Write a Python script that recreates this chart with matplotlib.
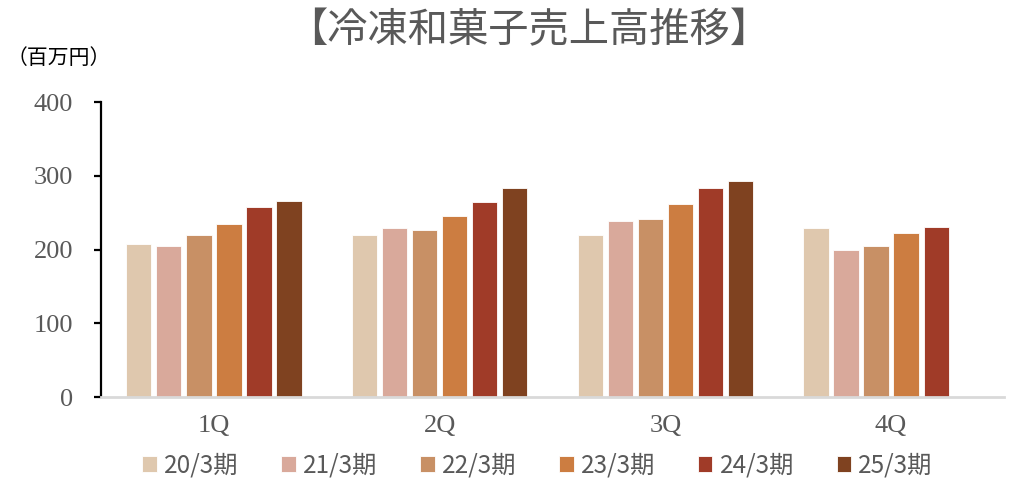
import matplotlib.pyplot as plt
import numpy as np

plt.rcParams['font.family'] = ['Noto Sans CJK JP', 'DejaVu Sans']

quarters = ['1Q', '2Q', '3Q', '4Q']
periods = ['20/3期', '21/3期', '22/3期', '23/3期', '24/3期', '25/3期']
sales = [
    [208, 219, 219, 229],
    [205, 229, 238, 199],
    [220, 227, 241, 205],
    [235, 246, 262, 222],
    [257, 265, 283, 231],
    [266, 283, 293, np.nan],
]
colors = ['#DFC8AE', '#D9A99B', '#C89065', '#CC7D41', '#A03B28', '#7F4220']

fig = plt.figure(figsize=(10.2, 4.79), dpi=100)
ax = fig.add_axes([101 / 1020, 1 - 397 / 479, 903 / 1020, 295 / 479])

x = np.arange(len(quarters))
step = 0.133
width = 0.112
for i, (name, vals) in enumerate(zip(periods, sales)):
    ax.bar(x + (i - 2.5) * step, vals, width, color=colors[i], label=name,
           edgecolor='white', linewidth=0.6)

ax.set_xlim(-0.5, 3.5)
ax.set_ylim(0, 400)
ax.set_yticks([0, 100, 200, 300, 400])
ax.set_xticks(x)
ax.set_xticklabels(quarters)
for lab in ax.get_xticklabels() + ax.get_yticklabels():
    lab.set_family('Liberation Serif')
    lab.set_fontsize(19)
    lab.set_color('#595959')

ax.spines['top'].set_visible(False)
ax.spines['right'].set_visible(False)
ax.spines['left'].set_color('black')
ax.spines['left'].set_linewidth(1.6)
ax.spines['bottom'].set_color('#D9D9D9')
ax.spines['bottom'].set_linewidth(2)
ax.tick_params(axis='y', direction='out', length=5, width=1.6, pad=15)
ax.tick_params(axis='x', length=0, pad=13)

fig.text(0.518, 0.935, '【冷凍和菓子売上高推移】', ha='center', va='center',
         fontsize=29, color='#595959')
fig.text(0.006, 0.878, '（百万円）', ha='left', va='center', fontsize=15,
         color='black')

fig.legend(loc='center', bbox_to_anchor=(0.527, 0.028), ncol=6, frameon=False,
           fontsize=17.5, handlelength=0.6, handleheight=0.6, handletextpad=0.3,
           columnspacing=1.75, labelcolor='#595959', borderaxespad=0)

fig.savefig('out.png', dpi=100)
